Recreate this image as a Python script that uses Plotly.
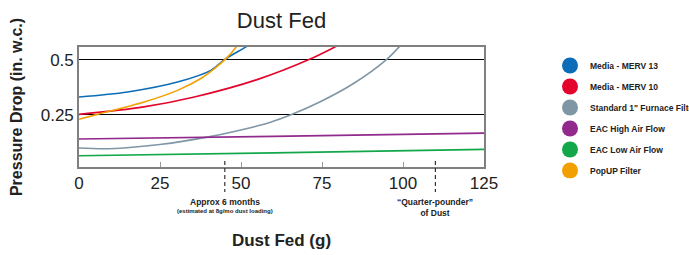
import plotly.graph_objects as go

# ---- data ----
merv13_x = [0, 15, 30.4, 40.7, 44.9, 51, 54]
merv13_y = [0.33, 0.353, 0.398, 0.451, 0.5, 0.553, 0.58]

merv10_x = [0, 20, 35.6, 55.2, 71, 79, 82]
merv10_y = [0.251, 0.285, 0.33, 0.41, 0.5, 0.557, 0.58]

std_x = [0, 9.3, 24.9, 40.8, 50.6, 58.9, 65.6, 74.3, 84.6, 94.9, 98.8, 101]
std_y = [0.098, 0.095, 0.114, 0.151, 0.182, 0.214, 0.25, 0.307, 0.39, 0.5, 0.557, 0.59]

eac_high_x = [0, 60, 125]
eac_high_y = [0.139, 0.151, 0.166]

eac_low_x = [0, 60, 125]
eac_low_y = [0.063, 0.076, 0.092]

popup_x = [0, 5.7, 20.1, 30.4, 37.6, 41.8, 45.9, 48.5, 50]
popup_y = [0.229, 0.251, 0.307, 0.36, 0.414, 0.459, 0.512, 0.557, 0.59]

series_names = ["Media - MERV 13", "Media - MERV 10", "Standard 1\" Furnace Filter",
                "EAC High Air Flow", "EAC Low Air Flow", "PopUP Filter"]
series_colors = ["#0b6db7", "#e3052c", "#7f96a5", "#912a8c", "#12a84a", "#f2a000"]

x_ticks = [0, 25, 50, 75, 100, 125]
y_ticks = [0, 0.25, 0.5]
y_tick_text = ["0", "0.25", "0.5"]

milestones_x = [45, 110]
milestone_main = ["Approx 6 months", "\u201cQuarter-pounder\u201d<br>of Dust"]
milestone_note = ["(estimated at 8g/mo dust loading)", ""]

xs = [merv13_x, merv10_x, std_x, eac_high_x, eac_low_x, popup_x]
ys = [merv13_y, merv10_y, std_y, eac_high_y, eac_low_y, popup_y]

fig = go.Figure()

# curves
for name, color, x, y in zip(series_names, series_colors, xs, ys):
    fig.add_trace(go.Scatter(
        x=x, y=y, mode="lines", name=name, showlegend=False,
        line=dict(color=color, width=1.6, shape="spline", smoothing=0.9),
        hoverinfo="skip",
    ))

# legend entries (circles)
for i, (name, color) in enumerate(zip(series_names, series_colors)):
    fig.add_trace(go.Scatter(
        x=[None], y=[None], mode="markers", name=name, legendgroup=f"g{i}",
        marker=dict(color=color, size=16, symbol="circle"),
    ))

font_family = "Liberation Sans, Arial, Helvetica, sans-serif"

# plot area: top 47px, bottom 167px (height 120px)
def py_to_paper(py):
    return (167 - py) / 120.0

shapes = []
annotations = []
for mx, main, note in zip(milestones_x, milestone_main, milestone_note):
    shapes.append(dict(
        type="line", xref="x", yref="paper", x0=mx, x1=mx,
        y0=py_to_paper(161), y1=py_to_paper(192),
        line=dict(color="#333333", width=1.2, dash="4px,3px"),
    ))
    annotations.append(dict(
        xref="x", yref="paper", x=mx, y=py_to_paper(195), yanchor="top", xanchor="center",
        text=f"<b>{main}</b>", showarrow=False, align="center",
        font=dict(family=font_family, size=8.5, color="#222222"),
    ))
    if note:
        annotations.append(dict(
            xref="x", yref="paper", x=mx, y=py_to_paper(206), yanchor="top", xanchor="center",
            text=f"<b>{note}</b>", showarrow=False, align="center",
            font=dict(family=font_family, size=6, color="#222222"),
        ))

fig.update_layout(
    width=689, height=255,
    margin=dict(l=79, r=205, t=47, b=88),
    paper_bgcolor="white", plot_bgcolor="white",
    title=dict(text="Dust Fed", x=(79 + 484) / 2 / 689, xanchor="center",
               y=1 - 20 / 255, yanchor="middle",
               font=dict(family=font_family, size=22, color="#222222")),
    xaxis=dict(
        range=[0, 125], tickvals=x_ticks, ticks="inside", ticklen=5,
        tickcolor="#9a9a9a", tickwidth=1.2, automargin=False,
        showgrid=False, zeroline=False, showline=True, mirror=True,
        linecolor="#808080", linewidth=1.6,
        tickfont=dict(family=font_family, size=17, color="#222222"),
        title=dict(text="<b>Dust Fed (g)</b>", standoff=42,
                   font=dict(family=font_family, size=17, color="#222222")),
    ),
    yaxis=dict(
        range=[0.012, 0.557], tickvals=y_ticks, ticktext=y_tick_text, ticks="",
        showgrid=True, gridcolor="#000000", gridwidth=1, automargin=False,
        zeroline=False, showline=True, mirror=True,
        linecolor="#808080", linewidth=1.6,
        tickfont=dict(family=font_family, size=17, color="#222222"),
        title=dict(text="<b>Pressure Drop (in. w.c.)</b>", standoff=14,
                   font=dict(family=font_family, size=16, color="#222222")),
    ),
    legend=dict(
        xref="container", yref="container", x=550 / 689, y=1 - 51 / 255,
        xanchor="left", yanchor="top", traceorder="grouped", tracegroupgap=2,
        font=dict(family=font_family, size=8.5, color="#222222", weight="bold"),
        bgcolor="rgba(0,0,0,0)", itemclick=False,
    ),
    shapes=shapes, annotations=annotations,
    showlegend=True,
)

fig.write_html("out.html", config={"displayModeBar": False},
               post_script="document.body.style.margin='0';")
